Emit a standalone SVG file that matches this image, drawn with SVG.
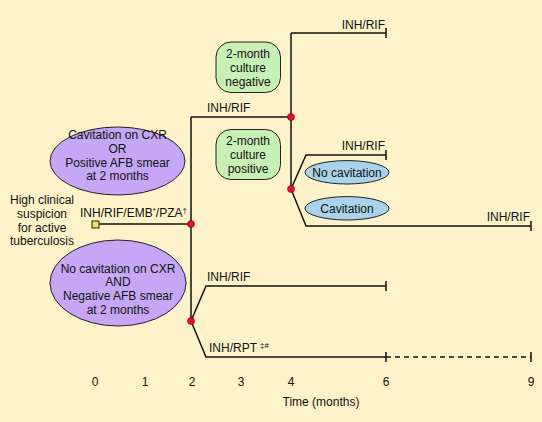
<svg xmlns="http://www.w3.org/2000/svg" width="542" height="422" viewBox="0 0 542 422">
<style>
text{font-family:"Liberation Sans",Arial,sans-serif;font-size:12px;fill:#111}
.c{text-anchor:middle}
.e{text-anchor:end}
.ln{fill:none;stroke:#111;stroke-width:1.5}
.pur{fill:#c5a7f5;stroke:#222;stroke-width:1}
.grn{fill:#c8efb6;stroke:#222;stroke-width:1}
.blu{fill:#a9d3ea;stroke:#222;stroke-width:1}
.dot{fill:#e5102b;stroke:#7a0010;stroke-width:0.6}
</style>
<rect width="542" height="422" fill="#fef2cb"/>
<g id="connectors">
<path class="ln" d="M98 224H191M191 117V322M191 117H291M291 33V189M291 33H386M386 28V38"/>
<path class="ln" d="M291 189L306 155H386M386 150V160M291 189L306 226H531M531 221V231"/>
<path class="ln" d="M191 321L206 286H386M386 281V291M191 321L206 357H386M386 352V362M531 352V362"/>
<path class="ln" d="M386 357H531" stroke-dasharray="5,4" stroke-width="1.2"/>
</g>
<g id="start"><rect x="92" y="221" width="7" height="7" fill="#f3e04a" stroke="#222" stroke-width="1"/></g>
<g id="dots">
<circle class="dot" cx="191" cy="224" r="3.5"/>
<circle class="dot" cx="191" cy="321" r="3.5"/>
<circle class="dot" cx="291" cy="117" r="3.5"/>
<circle class="dot" cx="291" cy="189" r="3.5"/>
</g>
<g id="suspicion">
<text class="c" x="42" y="203.5">High clinical</text>
<text class="c" x="42" y="217.5">suspicion</text>
<text class="c" x="42" y="231.5">for active</text>
<text class="c" x="42" y="245">tuberculosis</text>
</g>
<g id="lbl-initial"><text x="80" y="217">INH/RIF/EMB<tspan font-size="8" dy="-4">*</tspan><tspan dy="4">/PZA</tspan><tspan font-size="8" dy="-4">†</tspan></text></g>
<g id="positive">
<ellipse class="pur" cx="117.5" cy="161" rx="67.5" ry="34"/>
<text class="c" x="117.5" y="139">Cavitation on CXR</text>
<text class="c" x="117.5" y="153">OR</text>
<text class="c" x="117.5" y="166.5">Positive AFB smear</text>
<text class="c" x="117.5" y="180">at 2 months</text>
</g>
<g id="negative">
<ellipse class="pur" cx="118" cy="283" rx="68" ry="43"/>
<text class="c" x="118" y="272.5">No cavitation on CXR</text>
<text class="c" x="118" y="286">AND</text>
<text class="c" x="118" y="300">Negative AFB smear</text>
<text class="c" x="118" y="314">at 2 months</text>
</g>
<g id="culture-neg">
<rect class="grn" x="216" y="42" width="64.5" height="50.5" rx="15"/>
<text class="c" x="248" y="57.5">2-month</text>
<text class="c" x="248" y="71.5">culture</text>
<text class="c" x="248" y="85.5">negative</text>
</g>
<g id="culture-pos">
<rect class="grn" x="216" y="129.5" width="64.5" height="50" rx="15"/>
<text class="c" x="248" y="144.5">2-month</text>
<text class="c" x="248" y="158.5">culture</text>
<text class="c" x="248" y="172.5">positive</text>
</g>
<g id="no-cav">
<ellipse class="blu" cx="347" cy="172.3" rx="42" ry="11.7"/>
<text class="c" x="347" y="176.6">No cavitation</text>
</g>
<g id="cav">
<ellipse class="blu" cx="347" cy="208.3" rx="42" ry="11.7"/>
<text class="c" x="347" y="212.6">Cavitation</text>
</g>
<g id="labels">
<text class="e" x="385" y="28.5">INH/RIF</text>
<text x="207" y="111.5">INH/RIF</text>
<text class="e" x="385" y="150">INH/RIF</text>
<text class="e" x="530" y="221">INH/RIF</text>
<text x="207" y="281">INH/RIF</text>
<text x="209" y="352">INH/RPT<tspan font-size="8" dy="-4" dx="3">‡#</tspan></text>
</g>
<g id="axis">
<text class="c" x="95" y="385.5">0</text>
<text class="c" x="145" y="385.5">1</text>
<text class="c" x="192" y="385.5">2</text>
<text class="c" x="241" y="385.5">3</text>
<text class="c" x="291" y="385.5">4</text>
<text class="c" x="386" y="385.5">6</text>
<text class="c" x="531" y="385.5">9</text>
<text class="c" x="321" y="406">Time (months)</text>
</g>
</svg>
